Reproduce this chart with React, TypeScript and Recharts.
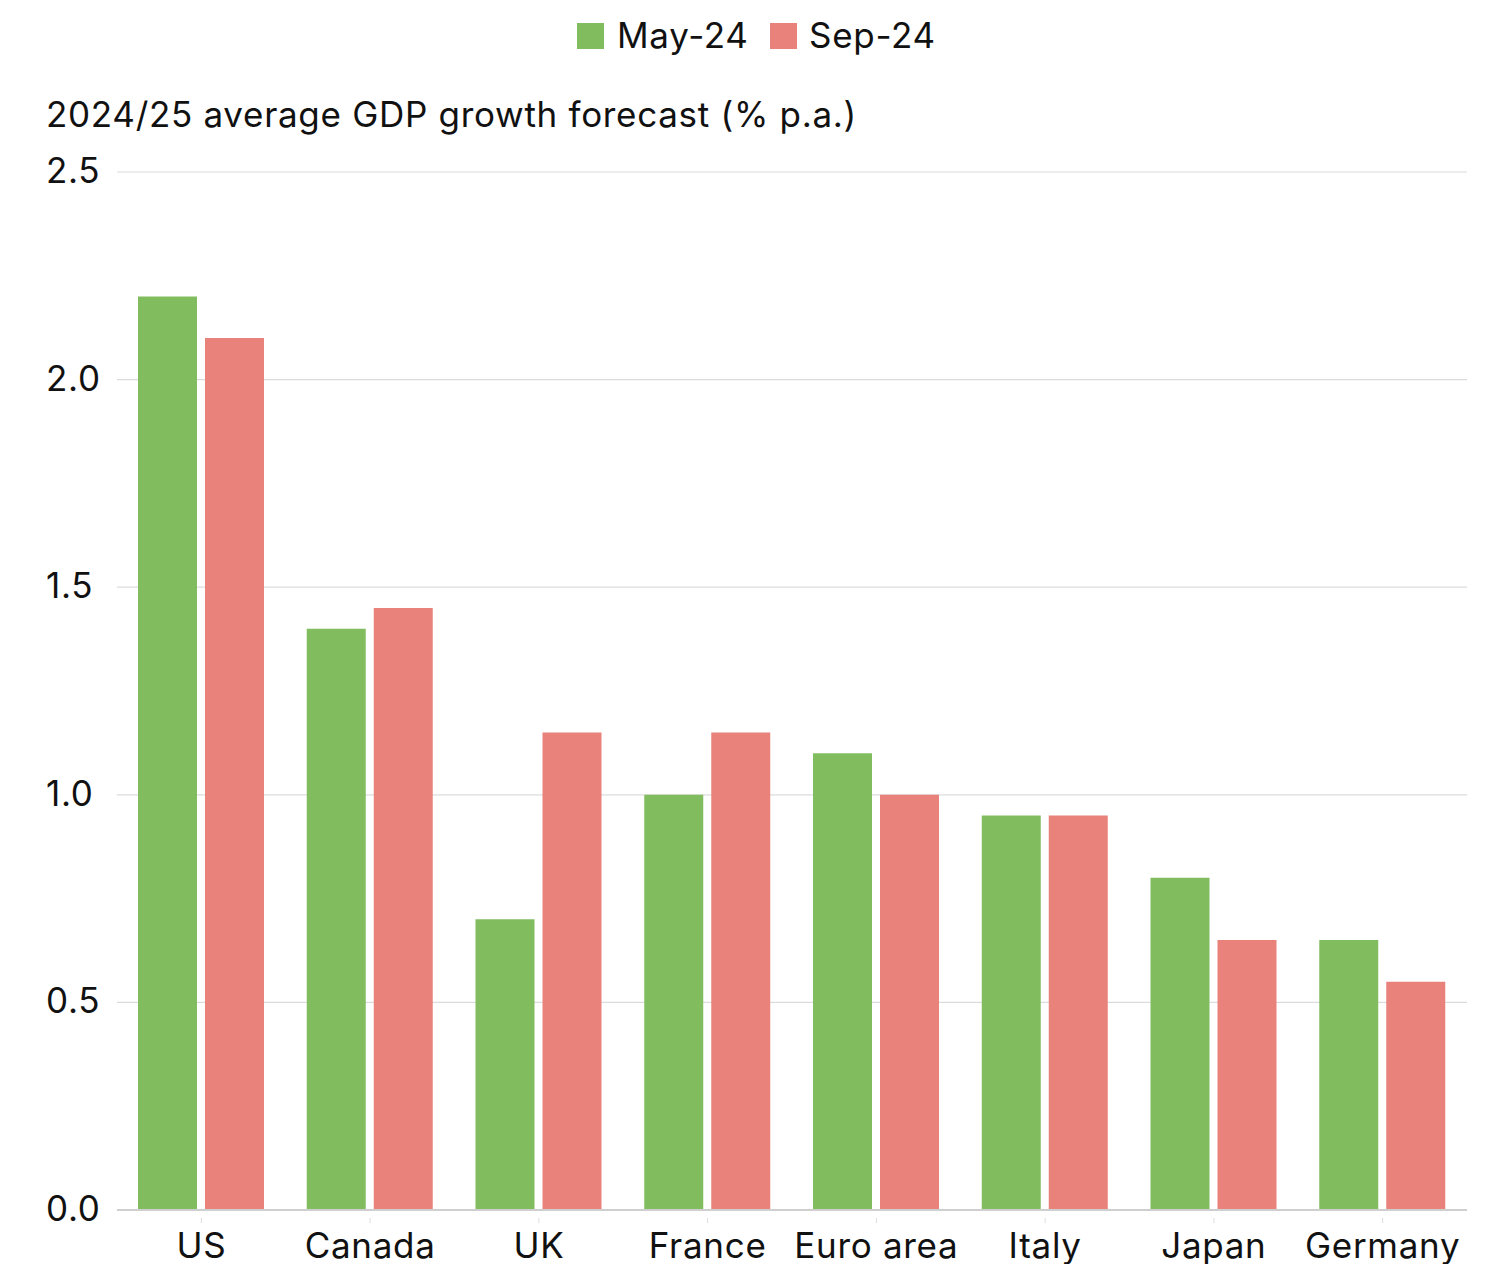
import { Bar, BarChart, CartesianGrid, XAxis, YAxis } from 'recharts';

const countries = ['US', 'Canada', 'UK', 'France', 'Euro area', 'Italy', 'Japan', 'Germany'];
const may24 = [2.2, 1.4, 0.7, 1.0, 1.1, 0.95, 0.8, 0.65];
const sep24 = [2.1, 1.45, 1.15, 1.15, 1.0, 0.95, 0.65, 0.55];
const yTicks = [0, 0.5, 1.0, 1.5, 2.0, 2.5];

const GREEN = '#81bd5f';
const RED = '#e8827a';
const FONT = 'Inter, "Noto Sans", sans-serif';
const FS = 35;
const LS = 0.7;

const data = countries.map((name, i) => ({ name, may: may24[i], sep: sep24[i] }));

const YTick = ({ y, payload }: any) => (
  <text x={46} y={y + 11} fontSize={FS} letterSpacing={LS} fontFamily={FONT} fill="#111" textAnchor="start">
    {Number(payload.value).toFixed(1)}
  </text>
);

const XTick = ({ x, y, payload }: any) => (
  <g>
    <line x1={x} x2={x} y1={y + 8} y2={y + 13} stroke="#ddd" strokeWidth={1} />
    <text x={x} y={y + 48} fontSize={FS} letterSpacing={LS} fontFamily={FONT} fill="#111" textAnchor="middle">
      {payload.value}
    </text>
  </g>
);

export default function App() {
  return (
    <div
      style={{
        position: 'absolute',
        left: 0,
        top: 0,
        width: 1497,
        height: 1264,
        overflow: 'hidden',
        background: '#fff',
      }}
    >
      <BarChart
        width={1497}
        height={1264}
        data={data}
        margin={{ top: 172, right: 30, left: 0, bottom: 14 }}
        barCategoryGap={21}
        barGap={8}
      >
        <CartesianGrid vertical={false} stroke="#dcdcdc" strokeWidth={1.2} />
        <XAxis
          dataKey="name"
          height={40}
          tickSize={0}
          tickMargin={0}
          tickLine={false}
          axisLine={{ stroke: '#cfcfcf', strokeWidth: 2 }}
          tick={XTick}
          interval={0}
        />
        <YAxis
          width={117}
          domain={[0, 2.5]}
          ticks={yTicks}
          tickSize={0}
          tickMargin={0}
          axisLine={false}
          tickLine={false}
          tick={YTick}
        />
        <Bar dataKey="may" name="May-24" fill={GREEN} isAnimationActive={false} />
        <Bar dataKey="sep" name="Sep-24" fill={RED} isAnimationActive={false} />
      </BarChart>

      {/* legend and axis title */}
      <svg
        width={1497}
        height={150}
        style={{ position: 'absolute', left: 0, top: 0, pointerEvents: 'none' }}
      >
        <rect x={577} y={23} width={27} height={26} fill={GREEN} />
        <text x={617} y={48} fontSize={FS} letterSpacing={LS} fontFamily={FONT} fill="#111">
          May-24
        </text>
        <rect x={770} y={23} width={27} height={26} fill={RED} />
        <text x={809} y={48} fontSize={FS} letterSpacing={LS} fontFamily={FONT} fill="#111">
          Sep-24
        </text>
        <text x={46} y={127} fontSize={FS} letterSpacing={LS} fontFamily={FONT} fill="#111">
          2024/25 average GDP growth forecast (% p.a.)
        </text>
      </svg>
    </div>
  );
}
